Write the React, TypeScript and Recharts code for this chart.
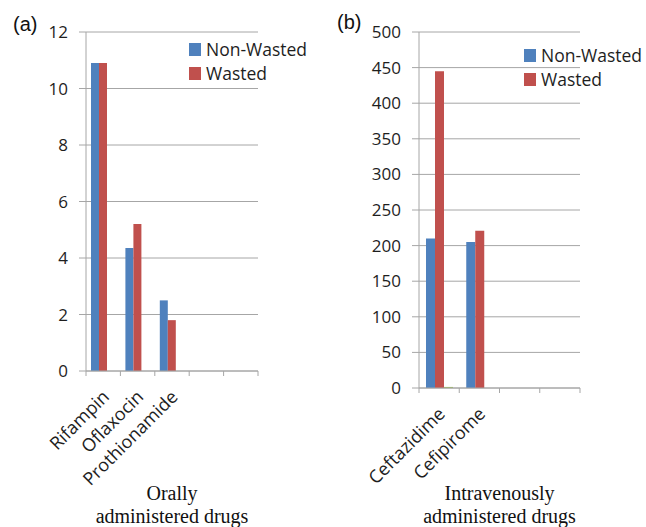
import { BarChart, Bar, XAxis, YAxis, CartesianGrid, Legend } from 'recharts'

const oralDrugs = ['Rifampin', 'Oflaxocin', 'Prothionamide', '', '']
const oralNonWasted = [10.9, 4.35, 2.5, null, null]
const oralWasted = [10.9, 5.2, 1.8, null, null]
const oralOther = [0, 0, 0, null, null]
const oralTicks = [0, 2, 4, 6, 8, 10, 12]

const ivDrugs = ['Ceftazidime', 'Cefipirome', '', '']
const ivNonWasted = [210, 205, null, null]
const ivWasted = [445, 221, null, null]
const ivOther = [1.5, 0, null, null]
const ivTicks = [0, 50, 100, 150, 200, 250, 300, 350, 400, 450, 500]

const BLUE = '#4F81BD'
const RED = '#C0504D'
const GREEN = '#9BBB59'
const GRID = '#A6A6A6'
const INK = '#1e1e1e'
const SANS = '"Open Sans", sans-serif'
const SERIF = '"Liberation Serif", "Times New Roman", serif'

const oralData = oralDrugs.map((name, i) => ({
  name,
  nonWasted: oralNonWasted[i],
  wasted: oralWasted[i],
  other: oralOther[i]
}))

const ivData = ivDrugs.map((name, i) => ({
  name,
  nonWasted: ivNonWasted[i],
  wasted: ivWasted[i],
  other: ivOther[i]
}))

// category label, slanted like Excel, plus tick marks on the category edges
const SlantTick = (props: any) => {
  const { x, y, payload, index, visibleTicksCount } = props
  const half = payload.offset || 0
  const px = x + 7
  const py = y + 27
  return (
    <g>
      <line x1={x - half} x2={x - half} y1={y} y2={y + 5} stroke={GRID} />
      {index === visibleTicksCount - 1 && (
        <line x1={x + half} x2={x + half} y1={y} y2={y + 5} stroke={GRID} />
      )}
      <text
        x={px}
        y={py}
        transform={`rotate(-45, ${px}, ${py})`}
        textAnchor='end'
        fontSize={18}
        fontFamily={SANS}
        fill={INK}
      >
        {payload.value}
      </text>
    </g>
  )
}

const AxisTitle = ({ viewBox, lines }: any) => {
  const cx = viewBox.x + viewBox.width / 2
  const bottom = viewBox.y + viewBox.height
  return (
    <text textAnchor='middle' fontSize={20} fontFamily={SERIF} fill='#111'>
      <tspan x={cx} y={bottom - 27}>{lines[0]}</tspan>
      <tspan x={cx} y={bottom - 4}>{lines[1]}</tspan>
    </text>
  )
}

const LegendBox = ({ payload }: any) => (
  <div style={{ fontFamily: SANS, fontSize: 17.5, color: INK, lineHeight: '24px' }}>
    {(payload || [])
      .filter((p: any) => p.type !== 'none')
      .map((p: any) => (
        <div key={p.value} style={{ display: 'flex', alignItems: 'center', whiteSpace: 'nowrap' }}>
          <span style={{ width: 12, height: 13, background: p.color, marginRight: 5, display: 'inline-block' }} />
          {p.value}
        </div>
      ))}
  </div>
)

type PanelProps = {
  data: any[]
  width: number
  axisWidth: number
  right: number
  axisHeight: number
  ticks: number[]
  barSize: number
  title: string[]
  legendLeft: number
  legendTop: number
}

const Panel = (p: PanelProps) => (
  <BarChart
    width={p.width}
    height={527}
    data={p.data}
    margin={{ top: 32, right: p.right, bottom: 0, left: 0 }}
    barGap={0}
  >
    <CartesianGrid vertical={false} stroke={GRID} />
    <XAxis
      dataKey='name'
      height={p.axisHeight}
      stroke={GRID}
      tickLine={false}
      tickSize={0}
      tickMargin={0}
      interval={0}
      tick={<SlantTick />}
      label={<AxisTitle lines={p.title} />}
    />
    <YAxis
      width={p.axisWidth}
      domain={[0, p.ticks[p.ticks.length - 1]]}
      ticks={p.ticks}
      interval={0}
      stroke={GRID}
      tickSize={7}
      tickMargin={11}
      tick={{ fill: INK, fontSize: 17, fontFamily: SANS }}
    />
    <Legend
      layout='vertical'
      align='center'
      verticalAlign='middle'
      content={<LegendBox />}
      wrapperStyle={{ left: p.legendLeft, top: p.legendTop, width: 'auto' }}
    />
    <Bar dataKey='nonWasted' name='Non-Wasted' fill={BLUE} barSize={p.barSize} isAnimationActive={false} />
    <Bar dataKey='wasted' name='Wasted' fill={RED} barSize={p.barSize} isAnimationActive={false} />
    <Bar dataKey='other' name='Other' fill={GREEN} barSize={p.barSize} legendType='none' isAnimationActive={false} />
  </BarChart>
)

export default function App () {
  return (
    <div style={{ position: 'absolute', left: 0, top: 0, width: 646, height: 527, background: '#fff' }}>
      <div style={{ position: 'absolute', left: 0, top: 0 }}>
        <Panel
          data={oralData}
          width={330}
          axisWidth={86}
          right={72}
          axisHeight={156}
          ticks={oralTicks}
          barSize={8}
          title={['Orally', 'administered drugs']}
          legendLeft={189}
          legendTop={37}
        />
      </div>
      <div style={{ position: 'absolute', left: 330, top: 0 }}>
        <Panel
          data={ivData}
          width={316}
          axisWidth={89}
          right={66}
          axisHeight={139}
          ticks={ivTicks}
          barSize={9}
          title={['Intravenously', 'administered drugs']}
          legendLeft={194}
          legendTop={43}
        />
      </div>
      <span style={{ position: 'absolute', left: 13, top: 13, fontFamily: '"Liberation Sans", Arial, sans-serif', fontSize: 20, color: '#111' }}>(a)</span>
      <span style={{ position: 'absolute', left: 337, top: 11, fontFamily: '"Liberation Sans", Arial, sans-serif', fontSize: 20, color: '#111' }}>(b)</span>
    </div>
  )
}
